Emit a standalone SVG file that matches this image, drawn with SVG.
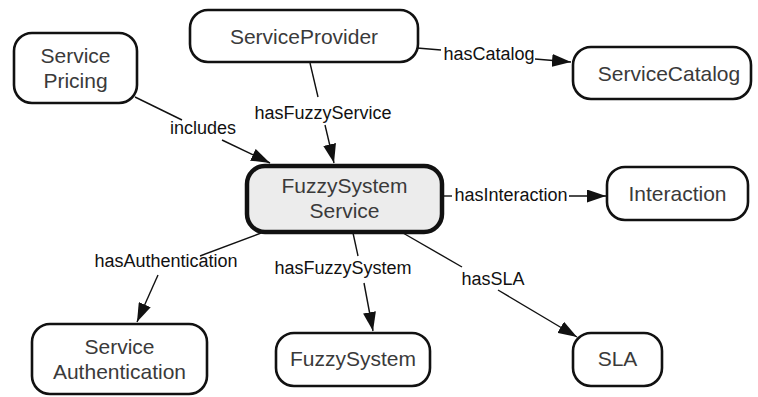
<svg xmlns="http://www.w3.org/2000/svg" width="758" height="397" viewBox="0 0 758 397">
<style>
.node rect{fill:#fff;stroke:#111;stroke-width:2.6}
.node text{font-family:"Liberation Sans",Arial,sans-serif;font-size:21px;fill:#3a3a3a;text-anchor:middle}
#n-fss rect{fill:#ececec;stroke-width:4.5}
.edge line{stroke:#111;stroke-width:1.4;fill:none}
.edge text{font-family:"Liberation Sans",Arial,sans-serif;font-size:18px;fill:#111;text-anchor:middle}
</style>
<defs>
<marker id="arr" viewBox="0 0 19 13" refX="19" refY="6.5" markerWidth="19" markerHeight="13" markerUnits="userSpaceOnUse" orient="auto">
<path d="M0,0 L19,6.5 L0,13 Z" fill="#111"/>
</marker>
</defs>
<rect width="758" height="397" fill="#fff"/>
<g id="connectors" class="edge">
<line x1="310" y1="63" x2="318" y2="97"/>
<line x1="325" y1="125" x2="334" y2="163" marker-end="url(#arr)"/>
<text x="323" y="119">hasFuzzyService</text>
<line x1="135" y1="97" x2="182" y2="120"/>
<line x1="222" y1="140" x2="270" y2="163" marker-end="url(#arr)"/>
<text x="203" y="134">includes</text>
<line x1="417" y1="48" x2="441" y2="50"/>
<line x1="535" y1="59" x2="571" y2="62" marker-end="url(#arr)"/>
<text x="489" y="60">hasCatalog</text>
<line x1="443" y1="196" x2="452" y2="196"/>
<line x1="569" y1="196" x2="606" y2="196" marker-end="url(#arr)"/>
<text x="511" y="201">hasInteraction</text>
<line x1="261" y1="233" x2="200" y2="256"/>
<line x1="158" y1="275" x2="137" y2="322" marker-end="url(#arr)"/>
<text x="166" y="267">hasAuthentication</text>
<line x1="353" y1="233" x2="358" y2="256"/>
<line x1="364" y1="283" x2="373" y2="331" marker-end="url(#arr)"/>
<text x="343" y="274">hasFuzzySystem</text>
<line x1="403" y1="233" x2="462" y2="267"/>
<line x1="498" y1="290" x2="577" y2="337" marker-end="url(#arr)"/>
<text x="493" y="285">hasSLA</text>
</g>
<g id="n-provider" class="node"><rect x="190" y="10" width="228" height="52" rx="18"/><text x="304" y="43.5">ServiceProvider</text></g>
<g id="n-pricing" class="node"><rect x="14" y="33" width="123" height="70" rx="18"/><text x="75.5" y="63">Service</text><text x="75.5" y="88">Pricing</text></g>
<g id="n-catalog" class="node"><rect x="573" y="47" width="178" height="52" rx="18"/><text x="669" y="80.5">ServiceCatalog</text></g>
<g id="n-fss" class="node"><rect x="247" y="166" width="195" height="66" rx="18"/><text x="344.5" y="193">FuzzySystem</text><text x="344.5" y="218">Service</text></g>
<g id="n-interaction" class="node"><rect x="607" y="167" width="141" height="53" rx="18"/><text x="677.5" y="201">Interaction</text></g>
<g id="n-auth" class="node"><rect x="32" y="324" width="175" height="70" rx="18"/><text x="119.5" y="354">Service</text><text x="119.5" y="379">Authentication</text></g>
<g id="n-fuzzysystem" class="node"><rect x="276" y="333" width="154" height="53" rx="18"/><text x="353" y="366">FuzzySystem</text></g>
<g id="n-sla" class="node"><rect x="573" y="333" width="89" height="53" rx="18"/><text x="617.5" y="366">SLA</text></g>
</svg>
